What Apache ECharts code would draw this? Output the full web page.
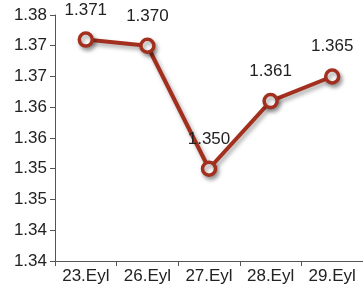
<!DOCTYPE html>
<html>
<head>
<meta charset="utf-8">
<script src="https://cdn.jsdelivr.net/npm/echarts@6/dist/echarts.min.js"></script>
<style>
  html, body { margin: 0; padding: 0; background: #fff; }
  #chart { width: 363px; height: 298px; }
</style>
</head>
<body>
<div id="chart"></div>
<script>
const categories = ['23.Eyl', '26.Eyl', '27.Eyl', '28.Eyl', '29.Eyl']
const values = [1.371, 1.370, 1.350, 1.361, 1.365]
// tick labels as printed on the axis, bottom to top
const yTickLabels = ['1.34', '1.34', '1.35', '1.35', '1.36', '1.36', '1.37', '1.37', '1.38']
const yMin = 1.335
const yMax = 1.375
const yStep = 0.005

const chart = echarts.init(document.getElementById('chart'))

chart.setOption({
  animation: false,
  backgroundColor: '#ffffff',
  textStyle: { fontFamily: 'Liberation Sans, Arial, sans-serif' },
  grid: { left: 55, top: 15, width: 311, height: 246, containLabel: false },
  xAxis: {
    type: 'category',
    data: categories,
    boundaryGap: true,
    axisLine: { lineStyle: { color: '#555', width: 1 } },
    axisTick: { show: true, length: 5, lineStyle: { color: '#555' } },
    axisLabel: { color: '#222', fontSize: 17, margin: 7 },
    splitLine: { show: false }
  },
  yAxis: {
    type: 'value',
    min: yMin,
    max: yMax,
    interval: yStep,
    axisLine: { show: true, lineStyle: { color: '#555', width: 1 } },
    axisTick: { show: true, length: 5, lineStyle: { color: '#555' } },
    axisLabel: {
      color: '#222',
      fontSize: 17,
      margin: 8,
      formatter: (v) => yTickLabels[Math.round((v - yMin) / yStep)]
    },
    splitLine: { show: false }
  },
  series: [{
    type: 'line',
    data: values,
    symbol: 'circle',
    symbolSize: 13,
    lineStyle: {
      color: '#a3301f',
      width: 4,
      shadowColor: 'rgba(0,0,0,0.35)',
      shadowBlur: 4,
      shadowOffsetX: 2,
      shadowOffsetY: 3
    },
    itemStyle: {
      color: '#ffffff',
      borderColor: '#a3301f',
      borderWidth: 3.5,
      shadowColor: 'rgba(0,0,0,0.35)',
      shadowBlur: 4,
      shadowOffsetX: 2,
      shadowOffsetY: 3
    },
    label: {
      show: true,
      position: 'top',
      distance: 13,
      color: '#222',
      fontSize: 17,
      formatter: (p) => p.value.toFixed(3)
    }
  }]
})
</script>
</body>
</html>
